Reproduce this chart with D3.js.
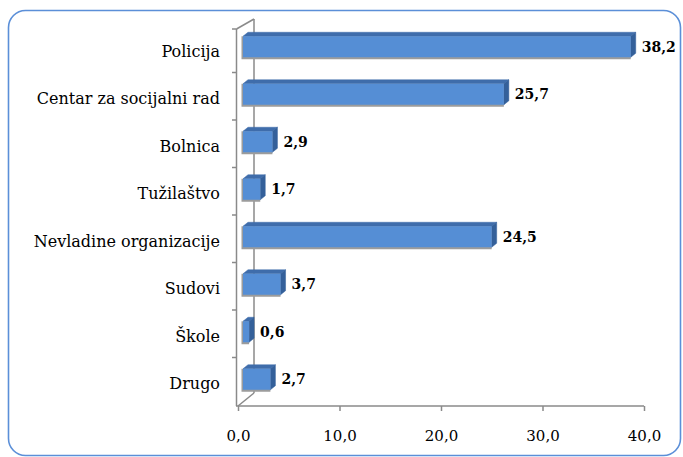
<!DOCTYPE html>
<html><head><meta charset="utf-8">
<script src="https://cdn.jsdelivr.net/npm/d3@7"></script>
<style>body{margin:0;background:#fff}svg{display:block}</style>
</head><body>
<svg id="c" width="683" height="457"></svg>
<script>
const categories = ["Policija","Centar za socijalni rad","Bolnica","Tužilaštvo","Nevladine organizacije","Sudovi","Škole","Drugo"];
const values = [38.2,25.7,2.9,1.7,24.5,3.7,0.6,2.7];
const xTicks = [0,10,20,30,40];

const svg = d3.select("#c");
const x = d3.scaleLinear().domain([0,40]).range([238,644]);
const y = d3.scaleBand().domain(categories).range([25,405]);
const fmt = d => d.toFixed(1).replace(".", ",");

// frame
svg.append("rect").attr("x",8.5).attr("y",10.5).attr("width",672).attr("height",445)
  .attr("rx",17).attr("fill","#fff").attr("stroke","#5B8FD8").attr("stroke-width",1.6);

const axisCol = "#8a8a8a";
// back wall lines
const wx = 254, wTop = 19, wBot = 393;
svg.append("line").attr("x1",wx).attr("x2",wx).attr("y1",wTop).attr("y2",wBot).attr("stroke",axisCol).attr("stroke-width",1.5);
svg.append("line").attr("x1",236.5).attr("y1",29).attr("x2",wx).attr("y2",wTop).attr("stroke",axisCol).attr("stroke-width",1.5);
svg.append("line").attr("x1",238).attr("y1",406).attr("x2",wx).attr("y2",wBot).attr("stroke",axisCol).attr("stroke-width",1.5);

// y axis line and boundary ticks
svg.append("line").attr("x1",236.5).attr("x2",236.5).attr("y1",29).attr("y2",406).attr("stroke",axisCol).attr("stroke-width",1.5);
const bounds = categories.map(c => y(c)).slice(1).concat([29]);
svg.selectAll(".yt").data(bounds).join("line").attr("class","yt")
  .attr("x1",232).attr("x2",236.5).attr("y1",d=>d).attr("y2",d=>d)
  .attr("stroke",axisCol).attr("stroke-width",1.5);

// x axis
const xa = svg.append("g").attr("transform","translate(0,406)")
  .call(d3.axisBottom(x).tickValues(xTicks).tickFormat(fmt).tickSize(5).tickSizeOuter(0).tickPadding(19));
xa.select(".domain").attr("stroke",axisCol).attr("stroke-width",1.5).attr("d","M236,0H644");
xa.selectAll(".tick line").attr("stroke",axisCol).attr("stroke-width",1.5);
xa.selectAll(".tick text").attr("font-family","DejaVu Serif").attr("font-size",15).attr("fill","#000");

// category labels
svg.selectAll(".cl").data(categories).join("text").attr("class","cl")
  .attr("x",220).attr("y",c=>y(c)+y.bandwidth()/2+8)
  .attr("text-anchor","end").attr("font-family","DejaVu Serif").attr("font-size",16).attr("fill","#000")
  .text(c=>c);

// bars
const dx = 5, dy = -4, off = 5, hTop = 12.5, hBot = 8.5;
const data = categories.map((c,i)=>({c, v:values[i]}));
const g = svg.selectAll(".bar").data(data).join("g").attr("class","bar");
g.each(function(d){
  const s = d3.select(this);
  const x0 = x(0)+off, x1 = x(d.v)+off;
  const cy = y(d.c)+y.bandwidth()/2;
  const t = cy-hTop, b = cy+hBot;
  // shadow/outline
  s.append("rect").attr("x",x0-1.5).attr("y",t).attr("width",x1-x0+1.5).attr("height",b-t+2)
    .attr("fill","#9c9c9c");
  // top face
  s.append("path").attr("d",`M${x0},${t}L${x0+dx},${t+dy}L${x1+dx},${t+dy}L${x1},${t}Z`)
    .attr("fill","#3F6DAB").attr("stroke","#3F6DAB").attr("stroke-width",0.5);
  // side face
  s.append("path").attr("d",`M${x1},${t}L${x1+dx},${t+dy}L${x1+dx},${b+dy}L${x1},${b}Z`)
    .attr("fill","#34609A").attr("stroke","#34609A").attr("stroke-width",0.5);
  // front
  s.append("rect").attr("x",x0).attr("y",t).attr("width",x1-x0).attr("height",b-t)
    .attr("fill","#558ED5");
  s.append("text").attr("x",x1+dx+6).attr("y",cy+3).attr("font-family","DejaVu Serif")
    .attr("font-weight","bold").attr("font-size",14).attr("fill","#000").text(fmt(d.v));
});
</script>
</body></html>
